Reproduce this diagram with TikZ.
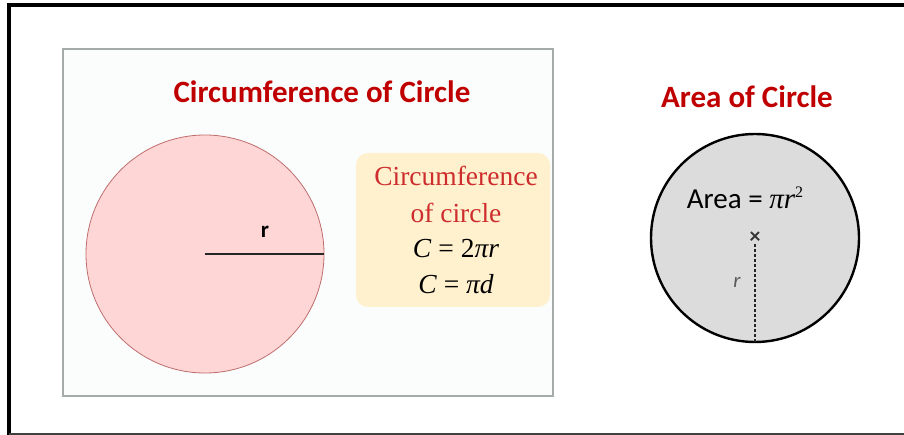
\documentclass[tikz,border=0pt]{standalone}
\usepackage{fontspec}
\setmainfont{Liberation Serif}
\newfontfamily\calib{Carlito}
\definecolor{titlered}{RGB}{192,0,0}
\definecolor{pinkfill}{RGB}{255,214,214}
\definecolor{pinkedge}{RGB}{190,110,110}
\definecolor{yelfill}{RGB}{255,240,206}
\definecolor{formred}{RGB}{205,45,45}
\definecolor{grayfill}{RGB}{220,220,220}
\definecolor{boxedge}{RGB}{165,170,170}
\definecolor{boxfill}{RGB}{251,253,253}
\tikzset{
  titletext/.style={font=\calib\bfseries\fontsize{31}{36}\selectfont, text=titlered, inner sep=0pt},
  formtext/.style={font=\fontsize{27.5}{32}\selectfont, inner sep=0pt},
}
\begin{document}
\begin{tikzpicture}[x=1pt,y=-1pt]
\useasboundingbox (0,0) rectangle (904,435);
% outer frame
\draw[line width=4pt] (9,435) -- (9,5) -- (904,5);
\draw[line width=1.2pt, black!75] (9,434) -- (904,434);
% left panel
\draw[boxedge, fill=boxfill, line width=1.5pt] (63,49) rectangle (553,396);
\node[titletext] (t1) at (322,92) {Circumference of Circle};
% pink circle
\coordinate (c1) at (205,254);
\draw[pinkedge, fill=pinkfill, line width=0.8pt] (c1) circle[radius=119];
\coordinate (e1) at (324,254);
\draw[line width=2.2pt, black!85] (c1) -- (e1);
\node[font=\calib\bfseries\fontsize{23}{26}\selectfont, inner sep=0pt] (r1) at (265,232) {r};
% yellow formula box
\node[fill=yelfill, rounded corners=12pt, minimum width=194pt, minimum height=154pt, inner sep=0pt] (yb) at (453,230) {};
\node[formtext, text=formred] (f1) at (456,176) {Circumference};
\node[formtext, text=formred] (f2) at (456,213) {of circle};
\node[formtext] (f3) at (456,249) {\textit{C} = 2\textit{πr}};
\node[formtext] (f4) at (456,284) {\textit{C} = \textit{πd}};
% right panel
\node[titletext] (t2) at (747,97) {Area of Circle};
\coordinate (c2) at (755,238);
\draw[line width=2.4pt, fill=grayfill] (c2) circle[radius=104];
\node[inner sep=0pt, anchor=base] (ar) at (745,209) {{\calib\fontsize{29}{33}\selectfont Area = }{\fontsize{29}{33}\selectfont\textit{πr}}\raisebox{11pt}{\fontsize{16}{18}\selectfont 2}};
\node[inner sep=0pt, font=\calib\bfseries\fontsize{22}{24}\selectfont, text=black!80] (x2) at (c2) {×};
\coordinate (b2) at (755,342);
\draw[line width=2pt, black!85, dash pattern=on 3pt off 2pt] (x2) -- (b2);
\node[inner sep=0pt, font=\calib\itshape\fontsize{21}{24}\selectfont, text=black!65] (r2) at (737,282) {r};
\end{tikzpicture}
\end{document}
